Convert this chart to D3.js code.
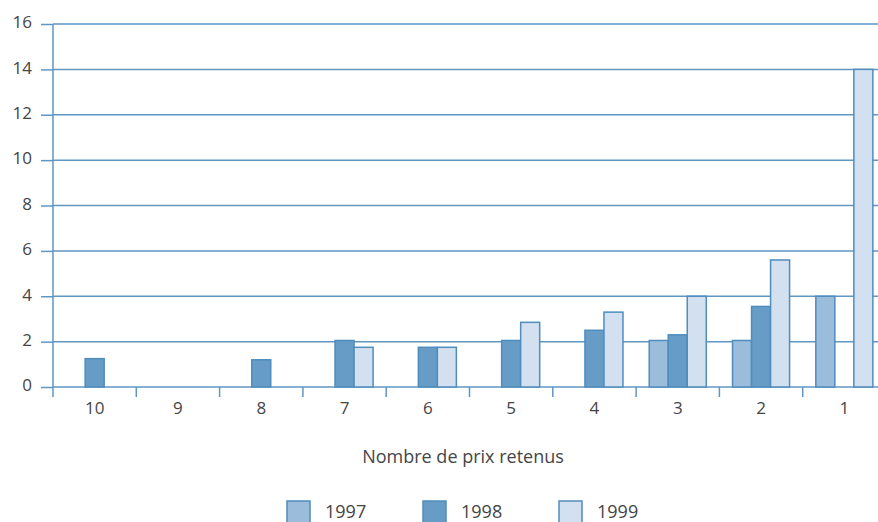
<!DOCTYPE html>
<html>
<head>
<meta charset="utf-8">
<script src="https://cdn.jsdelivr.net/npm/d3@7"></script>
<style>
  html, body { margin: 0; padding: 0; background: #fff; overflow: hidden; }
  svg { display: block; font-family: "Open Sans", Lato, sans-serif; }
</style>
</head>
<body>
<svg id="chart" width="878" height="522"></svg>
<script>
// Number of prices retained, by year
const categories = ["10", "9", "8", "7", "6", "5", "4", "3", "2", "1"];
const years = ["1997", "1998", "1999"];
const values1997 = [0, 0, 0, 0, 0, 0, 0, 2.05, 2.05, 4];
const values1998 = [1.25, 0, 1.2, 2.05, 1.75, 2.05, 2.5, 2.3, 3.55, 0];
const values1999 = [0, 0, 0, 1.75, 1.75, 2.85, 3.3, 4, 5.6, 14];
const yTicks = [0, 2, 4, 6, 8, 10, 12, 14, 16];

const fills = { "1997": "#9bbcdb", "1998": "#679cc6", "1999": "#d3e0ef" };
const strokeColor = "#4f8dbd";
const gridColor = "#5f97c4";
const textColor = "#454545";
const fontFamily = "'Open Sans', Lato, sans-serif";
const tickFontSize = "17px";
const labelFontSize = "18px";

const seriesByYear = { "1997": values1997, "1998": values1998, "1999": values1999 };

const svg = d3.select("#chart");
const margin = { left: 53, right: -8, top: 24, bottom: 135 };
const width = 878, height = 522;
const plotBottom = height - margin.bottom; // 387

const x0 = d3.scaleBand().domain(categories).range([margin.left, width - margin.right]).padding(0);
const x1 = d3.scaleBand().domain(years).range([0, x0.bandwidth()]).paddingInner(0).paddingOuter(0.69);
const y = d3.scaleLinear().domain([0, 16]).range([plotBottom, margin.top]);

// horizontal gridlines
svg.append("g")
  .selectAll("line")
  .data(yTicks)
  .join("line")
  .attr("x1", margin.left)
  .attr("x2", width)
  .attr("y1", d => y(d))
  .attr("y2", d => y(d))
  .attr("stroke", gridColor)
  .attr("stroke-width", 1.5);

// y axis
const yAxis = svg.append("g")
  .attr("transform", `translate(${margin.left},0)`)
  .call(d3.axisLeft(y).tickValues(yTicks).tickSizeInner(12).tickSizeOuter(0).tickPadding(9));
yAxis.select(".domain").remove();
yAxis.selectAll(".tick line").attr("stroke", gridColor).attr("stroke-width", 1.5);
yAxis.selectAll(".tick text")
  .attr("fill", textColor)
  .attr("dy", "0.22em")
  .style("font-size", tickFontSize)
  .style("font-family", fontFamily);

// vertical axis line extending below zero
svg.append("line")
  .attr("x1", margin.left).attr("x2", margin.left)
  .attr("y1", margin.top).attr("y2", plotBottom + 10)
  .attr("stroke", gridColor).attr("stroke-width", 1.5);

// bars
const rows = [];
categories.forEach((c, i) => {
  years.forEach(yr => {
    const v = seriesByYear[yr][i];
    if (v > 0) rows.push({ cat: c, year: yr, value: v });
  });
});

svg.append("g")
  .selectAll("rect")
  .data(rows)
  .join("rect")
  .attr("x", d => x0(d.cat) + x1(d.year))
  .attr("width", x1.bandwidth())
  .attr("y", d => y(d.value))
  .attr("height", d => y(0) - y(d.value))
  .attr("fill", d => fills[d.year])
  .attr("stroke", strokeColor)
  .attr("stroke-width", 1.5);

// x axis
const xAxis = svg.append("g")
  .attr("transform", `translate(0,${plotBottom})`)
  .call(d3.axisBottom(x0).tickSize(0).tickPadding(15));
xAxis.select(".domain").remove();
xAxis.selectAll(".tick text")
  .attr("fill", textColor)
  .style("font-size", tickFontSize)
  .style("font-family", fontFamily);

// category separators
svg.append("g")
  .selectAll("line")
  .data(categories.slice(1))
  .join("line")
  .attr("x1", d => x0(d))
  .attr("x2", d => x0(d))
  .attr("y1", plotBottom)
  .attr("y2", plotBottom + 10)
  .attr("stroke", gridColor)
  .attr("stroke-width", 1.5);

// axis title
svg.append("text")
  .attr("x", 463)
  .attr("y", 463)
  .attr("text-anchor", "middle")
  .attr("fill", textColor)
  .style("font-size", labelFontSize)
  .text("Nombre de prix retenus");

// legend
const legendX = [287, 423, 559];
const legend = svg.append("g")
  .selectAll("g")
  .data(years)
  .join("g")
  .attr("transform", (d, i) => `translate(${legendX[i]},501)`);
legend.append("rect")
  .attr("width", 23)
  .attr("height", 23)
  .attr("fill", d => fills[d])
  .attr("stroke", strokeColor)
  .attr("stroke-width", 1.5);
legend.append("text")
  .attr("x", 38)
  .attr("y", 16.5)
  .attr("fill", textColor)
  .style("font-size", labelFontSize)
  .text(d => d);
</script>
</body>
</html>
